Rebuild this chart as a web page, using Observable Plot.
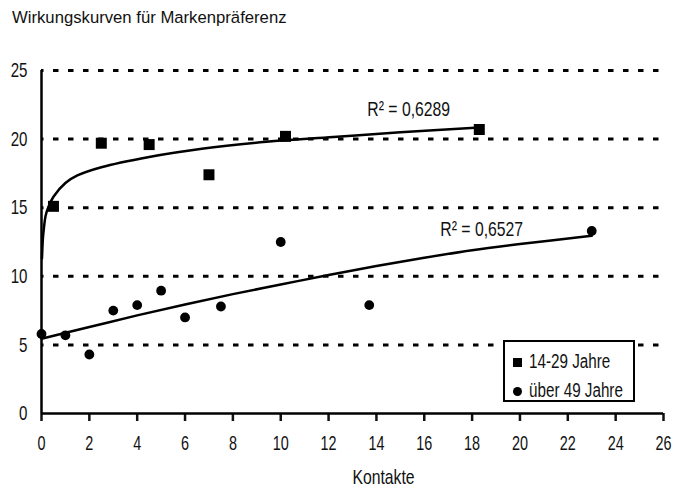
<!DOCTYPE html>
<html>
<head>
<meta charset="utf-8">
<script src="https://cdn.jsdelivr.net/npm/d3@7"></script>
<script src="https://cdn.jsdelivr.net/npm/@observablehq/plot@0.6"></script>
<style>
  html, body { margin: 0; padding: 0; background: #fff; }
  #wrap { position: relative; width: 674px; height: 489px; overflow: hidden; font-family: "Liberation Sans", Arial, sans-serif; }
  #title { position: absolute; left: 12px; top: 8px; font-size: 16.7px; color: #111; white-space: nowrap; }
  #legend { position: absolute; left: 503px; top: 340px; width: 128px; height: 58px; border: 2px solid #000; background: #fff; font-size: 19.5px; color: #111; }
  .item { position: absolute; left: 8px; white-space: nowrap; line-height: 1; height: 20px; }
  .sym { position: absolute; left: 0; top: 6px; width: 9px; height: 9px; background: #000; }
  .lab { position: absolute; left: 16px; top: 0; display: inline-block; transform: scaleX(0.78); transform-origin: 0 50%; }
</style>
</head>
<body>
<div id="wrap">
  <div id="title">Wirkungskurven für Markenpräferenz</div>
  <div id="chart"></div>
  <div id="legend"></div>
</div>
<script>
// ---- data ----
const xTicks = [0, 2, 4, 6, 8, 10, 12, 14, 16, 18, 20, 22, 24, 26];
const yTicks = [0, 5, 10, 15, 20, 25];
const gridLevels = [5, 10, 15, 20, 25];

const seriesNames = ["14-29 Jahre", "über 49 Jahre"];

const youngX = [0.5, 2.5, 4.5, 7.0, 10.2, 18.3];
const youngY = [15.1, 19.7, 19.6, 17.4, 20.2, 20.7];

const oldX = [0, 1, 2, 3, 4, 5, 6, 7.5, 10, 13.7, 23];
const oldY = [5.8, 5.7, 4.3, 7.5, 7.9, 8.95, 7.0, 7.8, 12.5, 7.9, 13.3];

// trend curves
const youngTrendX = [0.02, 0.06, 0.1, 0.17, 0.3, 0.5, 1, 1.5, 2.5, 4.5, 6.7, 9.4, 12.2, 15, 18.3];
const youngTrendY = [11.3, 12.8, 13.5, 14.4, 15.1, 15.8, 16.8, 17.35, 17.95, 18.7, 19.3, 19.8, 20.15, 20.5, 20.85];

const oldTrendX = [0, 2, 4, 6, 8, 10, 12, 14, 16, 18, 20, 23];
const oldTrendY = [5.45, 6.3, 7.15, 7.95, 8.7, 9.4, 10.1, 10.75, 11.35, 11.9, 12.35, 12.95];

const r2Labels = ["R² = 0,6289", "R² = 0,6527"];
const xLabel = "Kontakte";

// ---- build tables ----
const young = youngX.map((x, i) => ({x, y: youngY[i]}));
const old = oldX.map((x, i) => ({x, y: oldY[i]}));
const youngTrend = youngTrendX.map((x, i) => ({x, y: youngTrendY[i]}));
const oldTrend = oldTrendX.map((x, i) => ({x, y: oldTrendY[i]}));

const chart = Plot.plot({
  width: 674,
  height: 489,
  marginLeft: 41,
  marginRight: 11,
  marginTop: 70,
  marginBottom: 76,
  style: {fontFamily: '"Liberation Sans", Arial, sans-serif', background: "#fff", color: "#111"},
  x: {domain: [0, 26]},
  y: {domain: [0, 25]},
  marks: [
    Plot.ruleY(gridLevels, {x1: 0, x2: 26, stroke: "#000", strokeWidth: 3, strokeDasharray: "5.5,9.5", strokeDashoffset: 3}),
    Plot.axisX({ticks: xTicks, tickSize: 8, strokeWidth: 2.5, tickPadding: 14, fontSize: 20, label: null, tickFormat: d => String(d)}),
    Plot.axisY({ticks: yTicks, tickSize: 0, tickPadding: 14, fontSize: 21, label: null, tickFormat: d => String(d)}),
    Plot.ruleY([0], {x1: 0, x2: 26, stroke: "#000", strokeWidth: 2.5}),
    Plot.ruleX([0], {y1: 0, y2: 25, stroke: "#000", strokeWidth: 2.5}),
    Plot.line(youngTrend, {x: "x", y: "y", curve: "catmull-rom", stroke: "#000", strokeWidth: 2.5}),
    Plot.line(oldTrend, {x: "x", y: "y", curve: "catmull-rom", stroke: "#000", strokeWidth: 2.5}),
    Plot.dot(young, {x: "x", y: "y", symbol: "square", r: 6.2, fill: "#000", stroke: "none"}),
    Plot.dot(old, {x: "x", y: "y", symbol: "circle", r: 4.9, fill: "#000", stroke: "none"}),
    Plot.text([r2Labels[0]], {x: 15.35, y: 21.72, text: d => d, fontSize: 21, lineAnchor: "bottom", textAnchor: "middle", fill: "#111"}),
    Plot.text([r2Labels[1]], {x: 18.4, y: 12.97, text: d => d, fontSize: 21, lineAnchor: "bottom", textAnchor: "middle", fill: "#111"}),
    Plot.text([xLabel], {frameAnchor: "bottom", lineAnchor: "bottom", dx: 31, dy: 70, text: d => d, fontSize: 21, fill: "#111"})
  ]
});
document.getElementById("chart").appendChild(chart);

// condense SVG text horizontally (narrow typeface look)
function condense(sel, factor) {
  chart.querySelectorAll(sel).forEach(t => {
    const len = t.getComputedTextLength();
    if (len > 0) {
      t.setAttribute("textLength", (len * factor).toFixed(2));
      t.setAttribute("lengthAdjust", "spacingAndGlyphs");
    }
  });
}
condense('g[aria-label="x-axis tick label"] text', 0.72);
condense('g[aria-label="y-axis tick label"] text', 0.72);
condense('g[aria-label="text"] text', 0.75);

// legend (HTML overlay)
const legend = document.getElementById("legend");
seriesNames.forEach((name, i) => {
  const item = document.createElement("div");
  item.className = "item";
  item.style.top = (i === 0 ? 10 : 39) + "px";
  const sym = document.createElement("span");
  sym.className = "sym";
  if (i === 1) sym.style.borderRadius = "50%";
  const lab = document.createElement("span");
  lab.className = "lab";
  lab.textContent = name;
  item.appendChild(sym);
  item.appendChild(lab);
  legend.appendChild(item);
});
</script>
</body>
</html>
